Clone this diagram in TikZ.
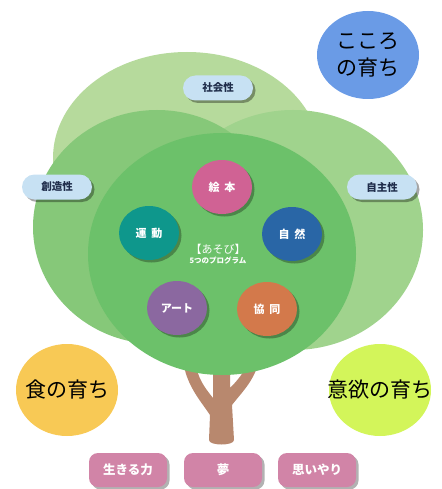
\documentclass[tikz,border=0pt]{standalone}
\usepackage{fontspec}
\newfontfamily\jp{Noto Sans CJK JP}
\usetikzlibrary{shapes.geometric,shadows}
\definecolor{topc}{HTML}{B6DA9C}
\definecolor{leftc}{HTML}{86C879}
\definecolor{rightc}{HTML}{A0D38D}
\definecolor{innerc}{HTML}{6CC16A}
\definecolor{ehonc}{HTML}{D06294}
\definecolor{undoc}{HTML}{0E978C}
\definecolor{shizenc}{HTML}{2966A6}
\definecolor{artc}{HTML}{8B68A0}
\definecolor{kyodoc}{HTML}{D3794B}
\definecolor{lblc}{HTML}{C7E1F3}
\definecolor{lbltext}{HTML}{1F2D4B}
\definecolor{pinkc}{HTML}{D184A7}
\definecolor{kokoroc}{HTML}{6A9BE6}
\definecolor{shokuc}{HTML}{F8C955}
\definecolor{iyokuc}{HTML}{D3F55A}
\definecolor{trunkc}{HTML}{B8886E}
\begin{document}
\begin{tikzpicture}[x=1pt,y=-1pt,
  prog/.style={ellipse, minimum width=60pt, minimum height=54pt, inner sep=0pt,
    font=\jp\bfseries\fontsize{11}{13}\selectfont, text=white,
    drop shadow={shadow xshift=2.5pt, shadow yshift=-2.5pt, fill=black, opacity=0.3}},
  lbl/.style={rectangle, rounded corners=12.5pt, minimum width=70pt, minimum height=25pt,
    inner sep=0pt, fill=lblc, text=lbltext, font=\jp\bfseries\fontsize{10.5}{12}\selectfont,
    drop shadow={shadow xshift=2.5pt, shadow yshift=-2.5pt, fill=black, opacity=0.35}},
  bot/.style={rectangle, rounded corners=9pt, minimum width=78pt, minimum height=34pt,
    inner sep=0pt, fill=pinkc, text=white, font=\jp\bfseries\fontsize{12.5}{14}\selectfont,
    drop shadow={shadow xshift=2.5pt, shadow yshift=-2.5pt, fill=black, opacity=0.3}},
  growcirc/.style={ellipse, inner sep=0pt, text=black, align=center,
    font=\jp\fontsize{21}{27}\selectfont},
  bigtext/.style={font=\jp\fontsize{21}{27}\selectfont, text=black}
]
\useasboundingbox (0,0) rectangle (441,489);
% trunk
\fill[trunkc] (213,360) -- (213,398) .. controls (205,388) and (197,378) .. (195,360)
  -- (183,360) .. controls (186,385) and (200,400) .. (210,415)
  -- (209,440) .. controls (209,446) and (234,446) .. (234,440)
  -- (232,405) .. controls (242,392) and (255,380) .. (259,360)
  -- (249,360) .. controls (245,372) and (236,382) .. (230,388)
  -- (230,360) -- cycle;
% canopy
\fill[topc] (187,158) ellipse [x radius=134pt, y radius=106pt];
\fill[rightc] (293,230) ellipse [x radius=130pt, y radius=120pt];
\fill[leftc] (157,227) ellipse [x radius=124pt, y radius=117pt];
\fill[innerc] (222,254) ellipse [x radius=134pt, y radius=121pt];
% labels
\node[lbl] (shakai) at (218,88) {社会性};
\node[lbl] (sozo) at (57,187) {創造性};
\node[lbl] (jishu) at (382,187) {自主性};
% programs
\node[prog, fill=ehonc] (ehon) at (222,187) {絵\hspace{5pt}本};
\node[prog, fill=undoc] (undo) at (149,233) {運\hspace{5pt}動};
\node[prog, fill=shizenc] (shizen) at (292,234) {自\hspace{5pt}然};
\node[prog, fill=artc] (art) at (177,308) {アート};
\node[prog, fill=kyodoc] (kyodo) at (267,309) {協\hspace{5pt}同};
\node[text=white, font=\jp\fontsize{11}{13}\selectfont] (asobi) at (218,249) {【あそび】};
\node[text=white, font=\jp\bfseries\fontsize{7.5}{9}\selectfont] (five) at (218,261) {5つのプログラム};
% growth circles
\node[growcirc, fill=kokoroc, minimum width=102pt, minimum height=88pt] (kokoro) at (368,55) {こころ\\の育ち};
\node[growcirc, fill=shokuc, minimum width=102pt, minimum height=92pt] (shoku) at (67,390) {};
\node[bigtext] (shokut) at (shoku) {食の育ち};
\node[growcirc, fill=iyokuc, minimum width=102pt, minimum height=92pt] (iyoku) at (380,390) {};
\node[bigtext] (iyokut) at (iyoku) {意欲の育ち};
% bottom
\node[bot] (ikiru) at (128,470) {生きる力};
\node[bot] (yume) at (223,470) {夢};
\node[bot] (omoi) at (317,470) {思いやり};
\end{tikzpicture}
\end{document}
